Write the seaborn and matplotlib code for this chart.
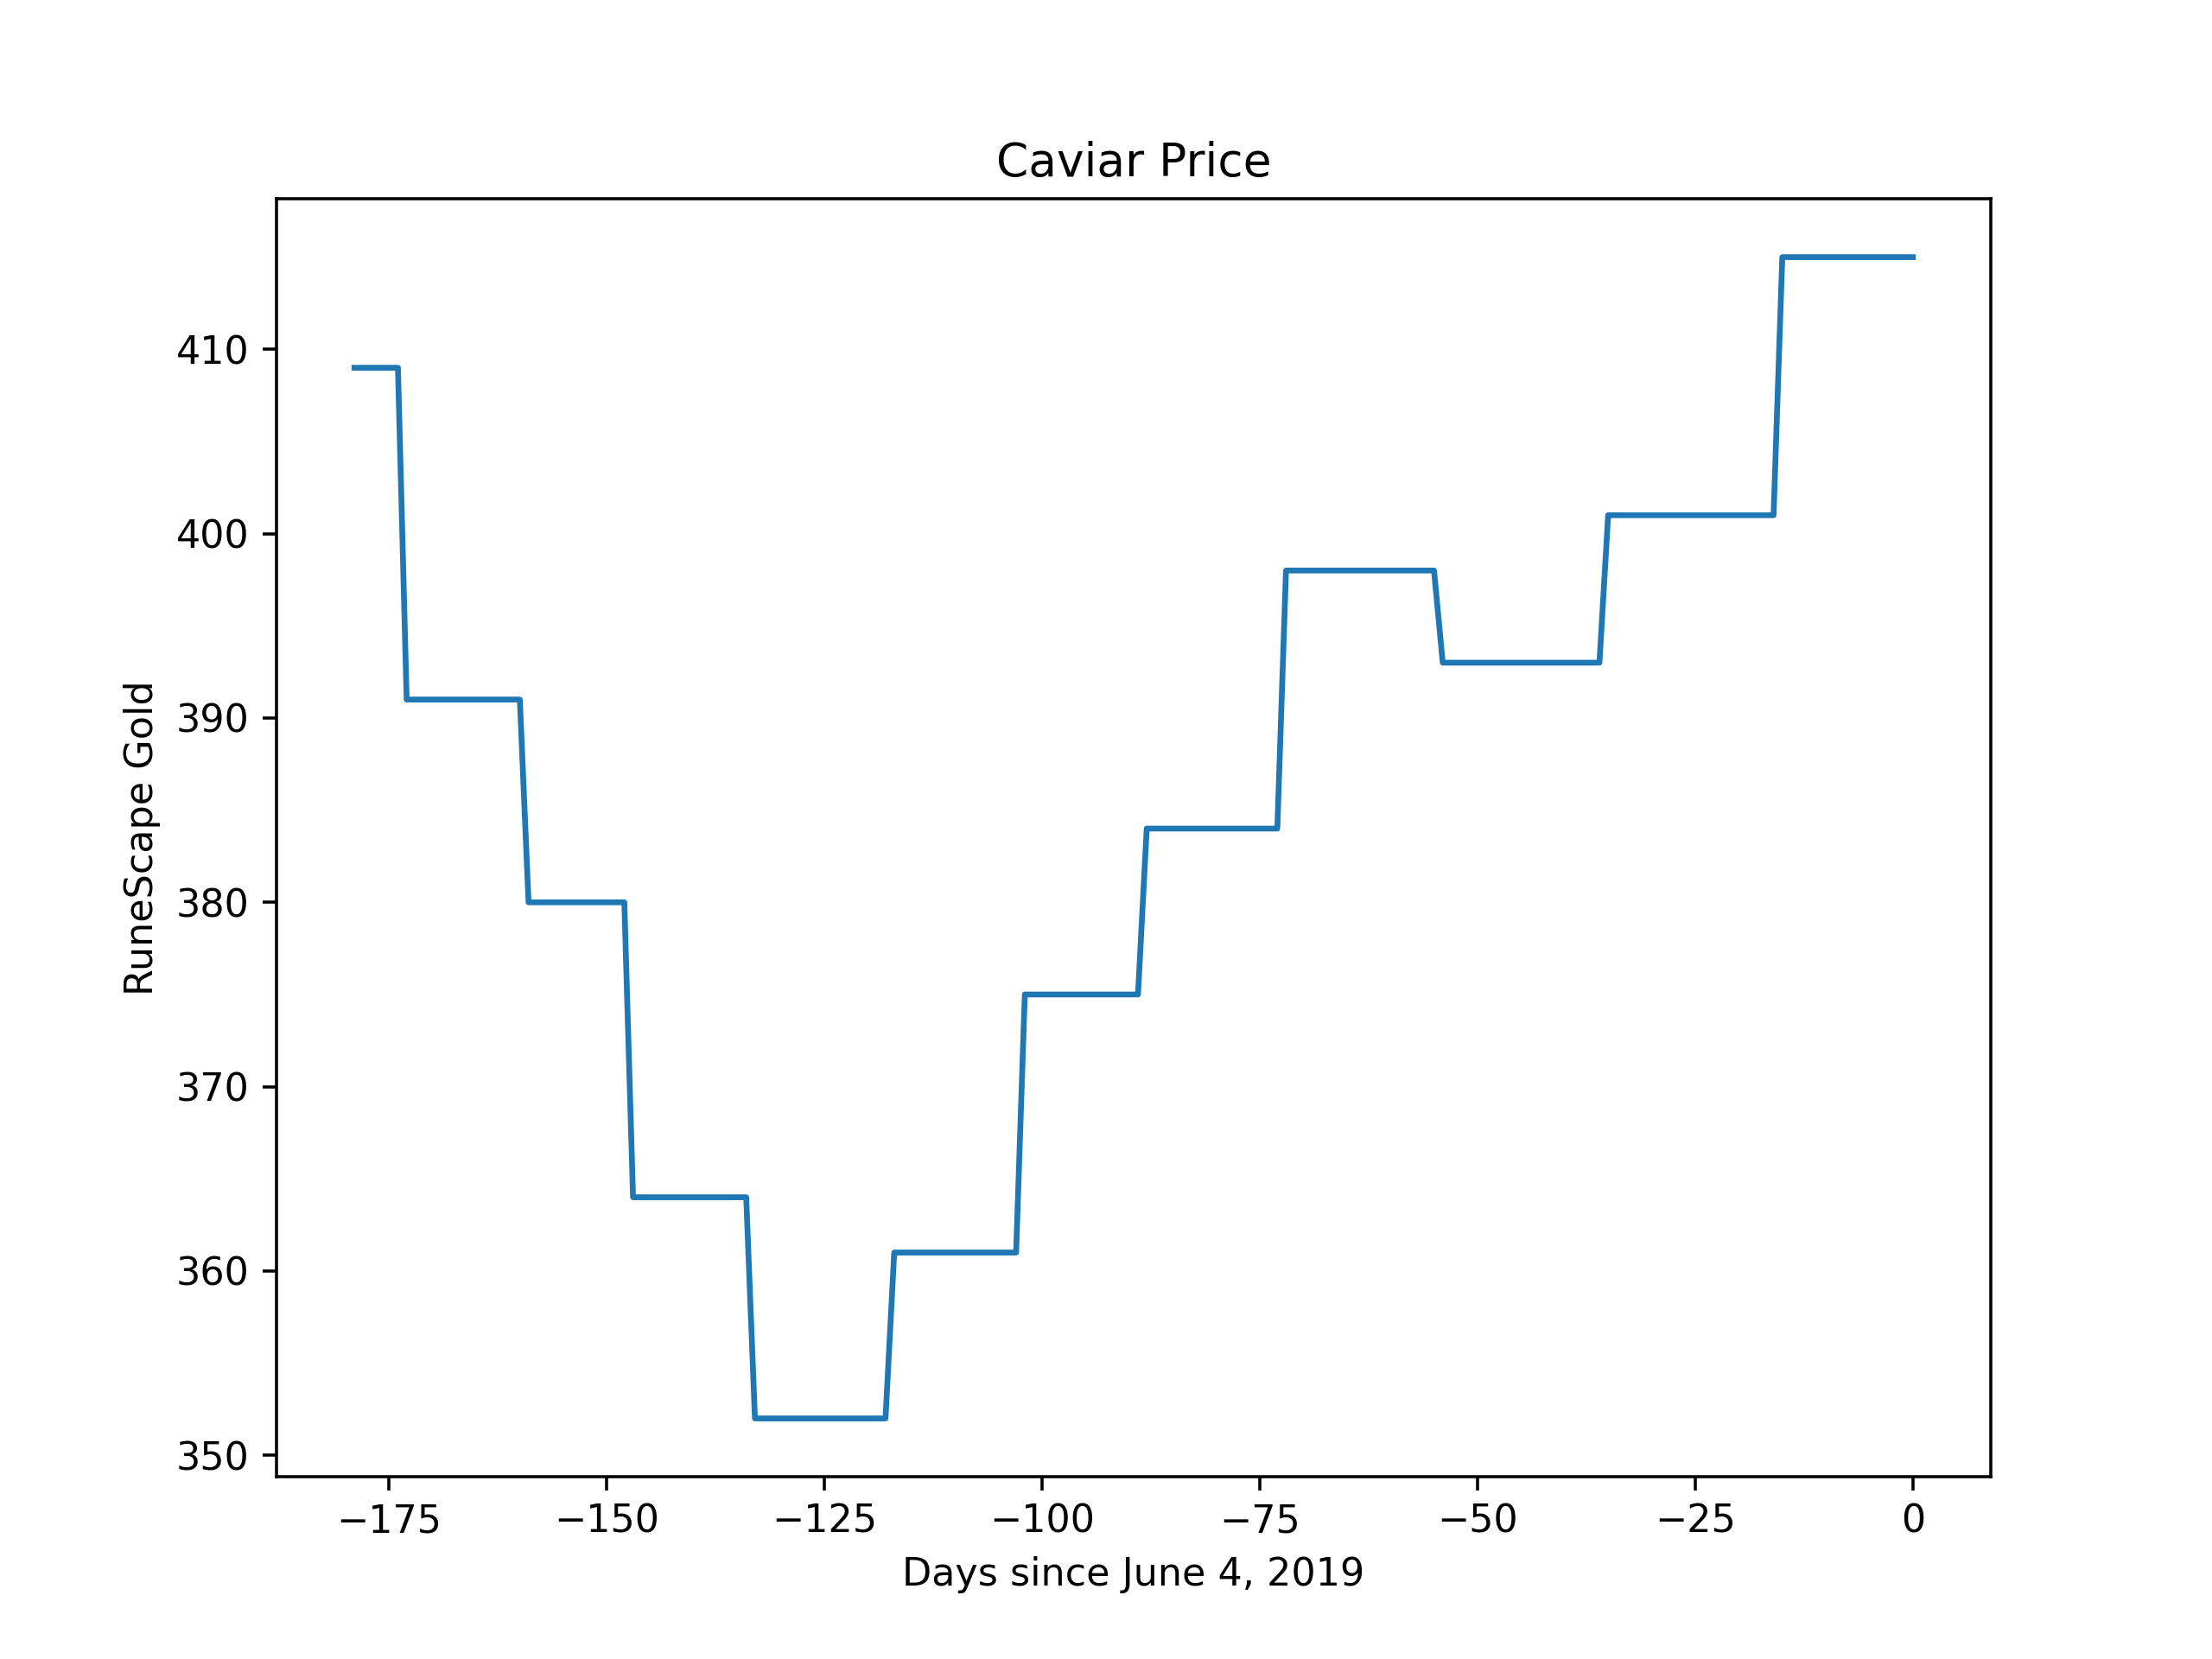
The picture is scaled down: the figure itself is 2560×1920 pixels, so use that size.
import matplotlib
matplotlib.use('Agg')
import matplotlib.pyplot as plt
import pandas as pd
import seaborn as sns

# breakpoints of the step-like price series (days since June 4, 2019)
days = [-179, -174, -173, -160, -159, -148, -147, -134, -133, -118, -117,
        -103, -102, -89, -88, -73, -72, -55, -54, -36, -35, -16, -15, 0]
prices = [409, 409, 391, 391, 380, 380, 364, 364, 352, 352, 361,
          361, 375, 375, 384, 384, 398, 398, 393, 393, 401, 401, 415, 415]

df = pd.DataFrame({'day': days, 'price': prices})

fig, ax = plt.subplots(figsize=(8, 6), dpi=320)
sns.lineplot(data=df, x='day', y='price', ax=ax, color='#1f77b4', linewidth=1.5)
ax.set_title('Caviar Price')
ax.set_xlabel('Days since June 4, 2019')
ax.set_ylabel('RuneScape Gold')
fig.savefig('out.png', dpi=320)
